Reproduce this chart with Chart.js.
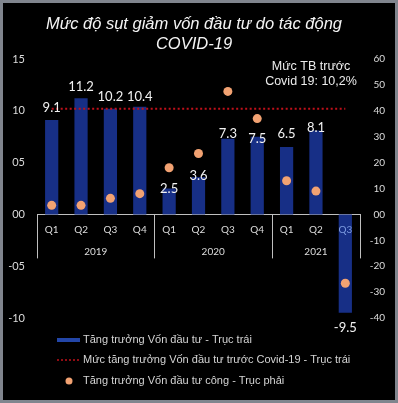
<!DOCTYPE html>
<html>
<head>
<meta charset="utf-8">
<style>
  html, body { margin: 0; padding: 0; background: #000; }
  #wrap { position: relative; width: 398px; height: 403px; }
</style>
</head>
<body>
<div id="wrap"><canvas id="chart"></canvas></div>
<script src="https://cdn.jsdelivr.net/npm/chart.js"></script>
<script>
    // data
    const quarters = ['Q1', 'Q2', 'Q3', 'Q4', 'Q1', 'Q2', 'Q3', 'Q4', 'Q1', 'Q2', 'Q3'];
    const years = ['2019', '2020', '2021'];
    const quartersPerYear = [4, 4, 3];
    const investmentGrowth = [9.1, 11.2, 10.2, 10.4, 2.5, 3.6, 7.3, 7.5, 6.5, 8.1, -9.5];
    const preCovidAverage = [10.2, 10.2, 10.2, 10.2, 10.2, 10.2, 10.2, 10.2, 10.2, 10.2, 10.2];
    const publicInvestmentGrowth = [3.5, 3.5, 6.2, 8, 18, 23.5, 47.5, 37, 13, 9, -26.6];

    const titleLines = ['Mức độ sụt giảm vốn đầu tư do tác động', 'COVID-19'];
    const noteLines = ['Mức TB trước', 'Covid 19: 10,2%'];
    const legendLabels = [
        'Tăng trưởng Vốn đầu tư - Trục trái',
        'Mức tăng trưởng Vốn đầu tư trước Covid-19 - Trục trái',
        'Tăng trưởng Vốn đầu tư công - Trục phải'
    ];

    const barColor = '#172f86';
    const lineColor = '#c0101a';
    const dotColor = '#f2a272';
    const textColor = '#dcdcdc';
    const numFont = 'Lato, "Open Sans", sans-serif';
    const sansFont = '"Liberation Sans", Arial, sans-serif';

    const twoDigits = v => (v < 0 ? '-' : '') + String(Math.abs(v)).padStart(2, '0');

    // black page with grey frame
    const frame = {
        id: 'frame',
        beforeDraw(chart) {
            const {ctx, width, height} = chart;
            ctx.save();
            ctx.fillStyle = '#000';
            ctx.fillRect(0, 0, width, height);
            ctx.strokeStyle = '#80858e';
            ctx.lineWidth = 3;
            ctx.strokeRect(1.5, 1.5, width - 3, height - 3);
            ctx.restore();
        }
    };

    // quarter / year boxes under the zero line
    const quarterAxis = {
        id: 'quarterAxis',
        afterDatasetsDraw(chart) {
            const {ctx} = chart;
            const x = chart.scales.x;
            const zero = chart.scales.y.getPixelForValue(0);
            const step = x.width / quarters.length;
            ctx.save();
            ctx.strokeStyle = '#bfbfbf';
            ctx.lineWidth = 1;
            ctx.textAlign = 'center';
            ctx.textBaseline = 'middle';
            ctx.font = '10px ' + numFont;
            quarters.forEach((q, i) => {
                ctx.fillStyle = investmentGrowth[i] < 0 ? '#7d9be0' : textColor;
                ctx.fillText(q, x.getPixelForValue(i), zero + 15);
            });
            let start = 0;
            const edges = [x.left];
            years.forEach((yr, k) => {
                const end = start + quartersPerYear[k] - 1;
                const mid = (x.getPixelForValue(start) + x.getPixelForValue(end)) / 2;
                ctx.fillStyle = textColor;
                ctx.fillText(yr, mid, zero + 37);
                edges.push(x.getPixelForValue(end) + step / 2);
                start = end + 1;
            });
            edges.forEach(px => {
                const sx = Math.round(px) + 0.5;
                ctx.beginPath();
                ctx.moveTo(sx, zero);
                ctx.lineTo(sx, zero + 44);
                ctx.stroke();
            });
            ctx.restore();
        }
    };

    // bar value labels, title, note and legend
    const labelLift = [12, 12, 12, 10, 0, 1, 5, -2, 13, 3, -15];
    const texts = {
        id: 'texts',
        afterDraw(chart) {
            const {ctx} = chart;
            const bars = chart.getDatasetMeta(0).data;
            ctx.save();
            ctx.textAlign = 'center';
            ctx.textBaseline = 'middle';

            ctx.font = '13px ' + numFont;
            ctx.fillStyle = '#f2f2f2';
            bars.forEach((bar, i) => {
                const v = investmentGrowth[i];
                ctx.fillText(v.toFixed(1), bar.x, bar.y - labelLift[i]);
            });

            ctx.font = 'italic 16.5px ' + sansFont;
            ctx.fillStyle = '#f4f4f4';
            titleLines.forEach((t, i) => ctx.fillText(t, 194, 24 + i * 20));

            ctx.font = '12.5px ' + sansFont;
            ctx.fillStyle = '#ececec';
            noteLines.forEach((t, i) => ctx.fillText(t, 311, 67 + i * 15));

            ctx.textAlign = 'left';
            ctx.font = '11px ' + sansFont;
            const rows = [340, 360, 381];
            legendLabels.forEach((t, i) => {
                const y = rows[i];
                if (i === 0) {
                    ctx.fillStyle = '#2346a8';
                    ctx.fillRect(57, y - 2, 23, 4);
                } else if (i === 1) {
                    ctx.strokeStyle = lineColor;
                    ctx.lineWidth = 1.5;
                    ctx.setLineDash([2, 2]);
                    ctx.beginPath();
                    ctx.moveTo(57, y);
                    ctx.lineTo(80, y);
                    ctx.stroke();
                    ctx.setLineDash([]);
                } else {
                    ctx.fillStyle = dotColor;
                    ctx.beginPath();
                    ctx.arc(69, y, 3.5, 0, Math.PI * 2);
                    ctx.fill();
                }
                ctx.fillStyle = '#d4d4d4';
                ctx.fillText(t, 83, y);
            });
            ctx.restore();
        }
    };

    new Chart(document.getElementById('chart'), {
        type: 'bar',
        data: {
            labels: quarters,
            datasets: [{
                type: 'bar',
                data: investmentGrowth,
                backgroundColor: barColor,
                borderWidth: 0,
                barPercentage: 0.45,
                categoryPercentage: 1,
                yAxisID: 'y',
                order: 3
            }, {
                type: 'line',
                data: preCovidAverage,
                borderColor: lineColor,
                borderWidth: 2,
                borderDash: [2, 2.5],
                pointRadius: 0,
                fill: false,
                yAxisID: 'y',
                order: 2
            }, {
                type: 'line',
                data: publicInvestmentGrowth,
                showLine: false,
                pointRadius: 4.5,
                pointBackgroundColor: dotColor,
                pointBorderWidth: 0,
                yAxisID: 'y1',
                order: 1
            }]
        },
        options: {
            responsive: true,
            maintainAspectRatio: false,
            animation: false,
            layout: { padding: { top: 59, bottom: 85, left: 0, right: 13 } },
            plugins: {
                legend: { display: false },
                title: { display: false },
                tooltip: { enabled: false }
            },
            scales: {
                x: {
                    position: { y: 0 },
                    grid: { display: false },
                    border: { display: true, color: '#bfbfbf', width: 1 },
                    ticks: { display: false }
                },
                y: {
                    position: 'left',
                    min: -10,
                    max: 15,
                    afterFit: s => { s.width = 37; },
                    grid: { display: false, drawTicks: false },
                    border: { display: false },
                    ticks: {
                        stepSize: 5,
                        padding: 12,
                        color: textColor,
                        font: { family: numFont, size: 11 },
                        callback: twoDigits
                    }
                },
                y1: {
                    position: 'right',
                    min: -40,
                    max: 60,
                    afterFit: s => { s.width = 25; },
                    grid: { display: false, drawTicks: false },
                    border: { display: false },
                    ticks: {
                        stepSize: 10,
                        padding: 12,
                        crossAlign: 'far',
                        color: textColor,
                        font: { family: numFont, size: 10 },
                        callback: twoDigits
                    }
                }
            }
        },
        plugins: [frame, quarterAxis, texts]
    });
</script>
</body>
</html>
